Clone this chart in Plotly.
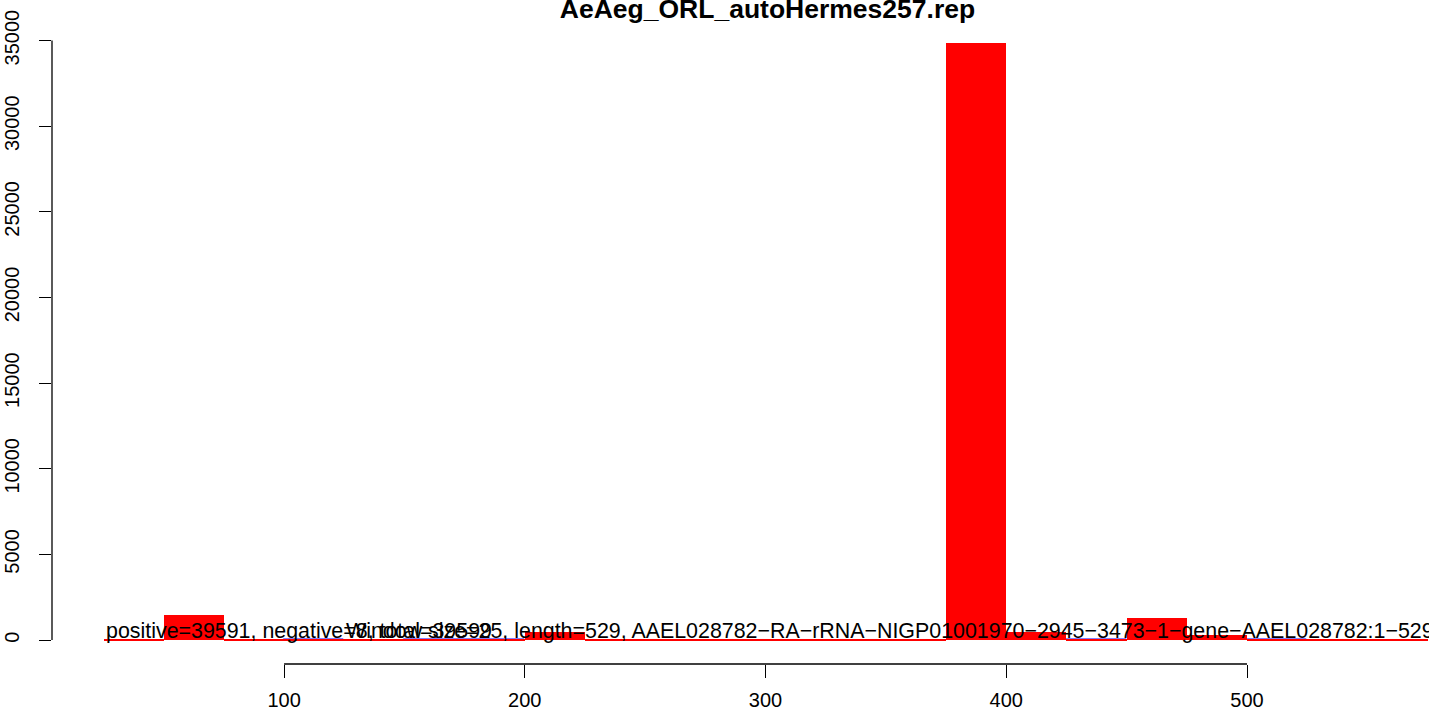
import plotly.graph_objects as go

# window starts (window size 25)
win_start = [25, 50, 75, 100, 125, 150, 175, 200, 225, 250, 275,
             300, 325, 350, 375, 400, 425, 450, 475, 500, 525, 550]
positive = [80, 1460, 90, 10, 80, 10, 30, 470, 60, 60, 60,
            60, 60, 60, 34865, 450, 10, 1270, 300, 10, 60, 60]
negative = [0, 0, 0, 1, 0, 1, 2, 0, 0, 0, 0,
            0, 0, 0, 0, 1, 1, 0, 1, 1, 0, 0]

x_ticks = [100, 200, 300, 400, 500]
y_ticks = [0, 5000, 10000, 15000, 20000, 25000, 30000, 35000]

title = "AeAeg_ORL_autoHermes257.rep"
info1 = "positive=39591, negative=8, total=39599"
info2 = "Window size=25, length=529, AAEL028782\u2212RA\u2212rRNA\u2212NIGP01001970\u22122945\u22123473\u22121\u2212gene\u2212AAEL028782:1\u2212529"

FONT = "Liberation Sans, Arial, sans-serif"

fig = go.Figure()

# negatives drawn downward (tiny), outline makes them visible
fig.add_trace(go.Bar(x=win_start, y=[-v if v else None for v in negative], width=25, offset=0,
                     marker=dict(color="blue", line=dict(color="blue", width=1.5)),
                     showlegend=False))
fig.add_trace(go.Bar(x=win_start, y=positive, width=25, offset=0,
                     marker=dict(color="red", line=dict(width=0)),
                     showlegend=False))

fig.add_annotation(x=25, y=0, xref="x", yref="y", text=info1, showarrow=False,
                   xanchor="left", yanchor="bottom", yshift=-5,
                   font=dict(family=FONT, size=21.4, color="black"))
fig.add_annotation(x=125, y=0, xref="x", yref="y", text=info2, showarrow=False,
                   xanchor="left", yanchor="bottom", yshift=-5,
                   font=dict(family=FONT, size=21.4, color="black"))

# R style axis lines (only between outer ticks)
fig.add_shape(type="line", xref="x", yref="paper", x0=x_ticks[0], x1=x_ticks[-1],
              y0=0, y1=0, line=dict(color="black", width=1.3))
fig.add_shape(type="line", xref="paper", yref="y", x0=0, x1=0,
              y0=y_ticks[0], y1=y_ticks[-1], line=dict(color="black", width=1.3))

fig.update_layout(
    width=1429, height=715,
    margin=dict(l=52, r=0, t=19, b=51),
    paper_bgcolor="white", plot_bgcolor="white",
    barmode="overlay", bargap=0,
    font=dict(family=FONT, size=20, color="black"),
    title=dict(text="<b>" + title + "</b>", x=0.5196, xanchor="center", xref="paper",
               y=1 - 9 / 715, yref="container", yanchor="middle",
               font=dict(family=FONT, size=26.5, color="black")),
    xaxis=dict(range=[3.6, 575.6], tickvals=x_ticks, ticktext=[str(v) for v in x_ticks],
               ticks="outside", ticklen=13, tickwidth=1.3, tickcolor="black",
               showline=False, showgrid=False, zeroline=False,
               ticklabelstandoff=5),
    yaxis=dict(range=[-1395, 36260], tickvals=y_ticks, ticktext=[str(v) for v in y_ticks],
               tickangle=-90, ticks="outside", ticklen=12, tickwidth=1.3, tickcolor="black",
               showline=False, showgrid=False, zeroline=False,
               ticklabelstandoff=12),
)

fig.write_html("out.html", config={"displayModeBar": False},
               post_script="document.body.style.margin='0';")
